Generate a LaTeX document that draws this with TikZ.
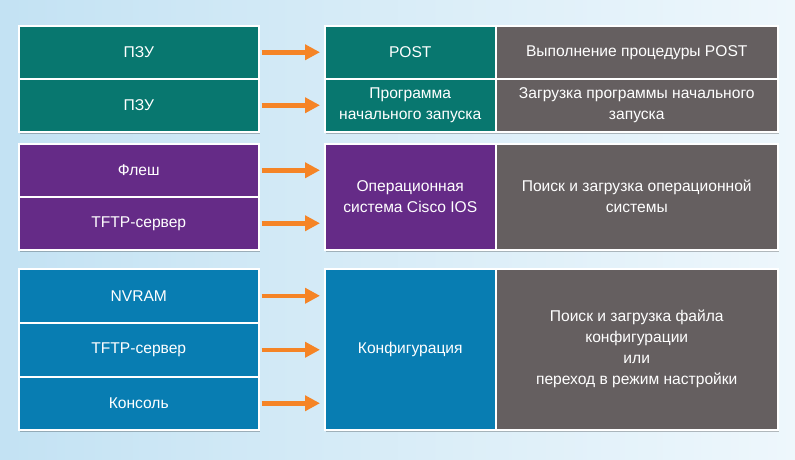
\documentclass[tikz,border=0pt]{standalone}
\usepackage{fontspec}
\setmainfont{Liberation Sans}
\usetikzlibrary{arrows.meta,shadows}

\definecolor{bootteal}{HTML}{08776F}
\definecolor{iospurple}{HTML}{652B87}
\definecolor{cfgblue}{HTML}{087DB2}
\definecolor{stepgray}{HTML}{655F60}
\definecolor{flowor}{HTML}{F58426}
\definecolor{bgleft}{HTML}{C3E2F3}
\definecolor{bgright}{HTML}{EEF7FC}

\tikzset{
  box/.style={draw=white, line width=1.5pt, text=white, inner sep=0pt,
    align=center, anchor=north west,
    drop shadow={shadow xshift=1.5pt, shadow yshift=-2pt, opacity=.25, fill=black}},
  flow/.style={draw=flowor, line width=4.5pt, shorten <=2pt, shorten >=4pt,
    -{Triangle[length=15pt,width=15pt]}}
}

\begin{document}
\begin{tikzpicture}[x=1pt, y=-1pt, font=\fontsize{15.6}{21}\selectfont]
    % --- фон ---
    \shade[left color=bgleft, right color=bgright] (0,0) rectangle (795,459);
    \useasboundingbox (0,0) rectangle (795,459);
    % --- загрузка: ПЗУ ---
    \node[box, fill=bootteal, minimum width=240pt, minimum height=53pt] (rom1) at (18,25) {ПЗУ};
    \node[box, fill=bootteal, minimum width=240pt, minimum height=53pt] (rom2) at (18,78) {ПЗУ};
    \node[box, fill=bootteal, minimum width=171pt, minimum height=53pt] (post) at (324,25) {POST};
    \node[box, fill=stepgray, minimum width=282pt, minimum height=53pt] (postdesc) at (495,25) {Выполнение процедуры POST};
    \node[box, fill=bootteal, minimum width=171pt, minimum height=53pt] (boot) at (324,78) {Программа\\начального запуска};
    \node[box, fill=stepgray, minimum width=282pt, minimum height=53pt] (bootdesc) at (495,78) {Загрузка программы начального\\запуска};
    % --- операционная система ---
    \node[box, fill=iospurple, minimum width=240pt, minimum height=53pt] (flash) at (18,143) {Флеш};
    \node[box, fill=iospurple, minimum width=240pt, minimum height=53pt] (tftpa) at (18,196) {TFTP-сервер};
    \node[box, fill=iospurple, minimum width=171pt, minimum height=106pt] (ios) at (324,143) {Операционная\\система Cisco IOS};
    \node[box, fill=stepgray, minimum width=282pt, minimum height=106pt] (iosdesc) at (495,143) {Поиск и загрузка операционной\\системы};
    % --- конфигурация ---
    \node[box, fill=cfgblue, minimum width=240pt, minimum height=54pt] (nvram) at (18,268) {NVRAM};
    \node[box, fill=cfgblue, minimum width=240pt, minimum height=54pt] (tftpb) at (18,322) {TFTP-сервер};
    \node[box, fill=cfgblue, minimum width=240pt, minimum height=53pt] (console) at (18,376) {Консоль};
    \node[box, fill=cfgblue, minimum width=171pt, minimum height=161pt] (config) at (324,268) {Конфигурация};
    \node[box, fill=stepgray, minimum width=282pt, minimum height=161pt] (configdesc) at (495,268) {Поиск и загрузка файла\\конфигурации\\или\\переход в режим настройки};
    % --- стрелки ---
    \foreach \src/\dst in {rom1/post, rom2/boot, flash/ios, tftpa/ios, nvram/config, tftpb/config, console/config} {
      \draw[flow] (\src.east) -- (\src.east -| \dst.west);
    }
  \end{tikzpicture}
\end{document}
